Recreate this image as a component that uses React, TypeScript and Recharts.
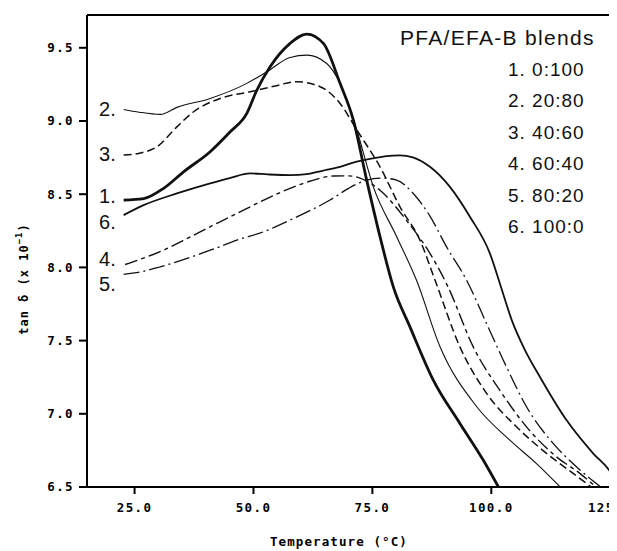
import { LineChart, Line, XAxis, YAxis, ReferenceLine, ReferenceDot, Label } from "recharts";

// tan delta (x 10^-1) vs temperature
const blend1Temp = [22.7, 26.9, 31.1, 35.3, 40.9, 45.1, 48.6, 50.7, 53.5, 57.7, 61.2, 64.7, 68.2, 71.0, 73.8, 76.6, 79.4, 82.9, 87.8, 93.4, 98.3, 101.5];
const blend1Tan = [8.46, 8.47, 8.54, 8.653, 8.79, 8.926, 9.052, 9.21, 9.37, 9.53, 9.594, 9.53, 9.257, 9.006, 8.596, 8.21, 7.867, 7.594, 7.23, 6.934, 6.684, 6.5];

const blend2Temp = [22.7, 26.0, 30.4, 33.9, 40.9, 48.6, 52.8, 57.7, 61.2, 65.4, 68.2, 71.7, 75.2, 80.1, 84.3, 89.2, 96.9, 103.9, 109.5, 114.5];
const blend2Tan = [9.079, 9.06, 9.045, 9.093, 9.154, 9.257, 9.336, 9.434, 9.45, 9.393, 9.257, 8.94, 8.55, 8.21, 7.91, 7.46, 7.05, 6.82, 6.66, 6.5];

const blend3Temp = [22.7, 26.0, 29.7, 33.9, 37.4, 43.0, 49.3, 54.0, 59.1, 64.0, 68.2, 71.7, 76.6, 80.8, 85.0, 88.2, 93.4, 99.0, 105.3, 111.6, 117.2, 121.0];
const blend3Tan = [8.767, 8.78, 8.824, 8.96, 9.063, 9.154, 9.2, 9.235, 9.268, 9.234, 9.12, 8.94, 8.687, 8.414, 8.186, 7.91, 7.457, 7.14, 6.911, 6.73, 6.593, 6.5];

const blend4Temp = [23.0, 27.0, 31.1, 35.0, 39.5, 43.5, 47.9, 52.5, 57.7, 62.0, 66.8, 70.0, 72.4, 76.6, 82.2, 87.1, 90.9, 96.2, 101.8, 107.4, 113.7, 118.6, 122.0];
const blend4Tan = [8.02, 8.065, 8.118, 8.18, 8.255, 8.32, 8.391, 8.465, 8.54, 8.59, 8.624, 8.625, 8.61, 8.527, 8.32, 8.096, 7.867, 7.457, 7.16, 6.911, 6.706, 6.593, 6.5];

const blend5Temp = [22.7, 26.5, 30.4, 34.0, 38.1, 42.0, 46.5, 52.1, 57.7, 62.0, 66.1, 70.0, 73.8, 77.0, 80.1, 83.6, 87.1, 90.6, 94.8, 99.0, 103.2, 107.4, 113.0, 117.9, 123.0];
const blend5Tan = [7.952, 7.97, 8.004, 8.04, 8.084, 8.13, 8.186, 8.243, 8.323, 8.39, 8.46, 8.54, 8.596, 8.61, 8.596, 8.505, 8.35, 8.14, 7.913, 7.617, 7.32, 7.048, 6.798, 6.638, 6.5];

const blend6Temp = [22.7, 26.9, 33.9, 40.9, 45.0, 49.3, 53.0, 57.7, 61.2, 64.5, 68.2, 71.5, 75.2, 78.0, 80.8, 83.5, 87.1, 91.3, 95.5, 99.7, 102.0, 104.3, 107.0, 110.2, 115.8, 121.4, 125.0, 126.8];
const blend6Tan = [8.357, 8.425, 8.505, 8.574, 8.61, 8.642, 8.635, 8.63, 8.637, 8.66, 8.687, 8.72, 8.745, 8.76, 8.765, 8.752, 8.687, 8.55, 8.346, 8.096, 7.87, 7.64, 7.44, 7.253, 6.957, 6.73, 6.604, 6.5];

const xTicks = [25, 50, 75, 100, 125];
const yTicks = [6.5, 7.0, 7.5, 8.0, 8.5, 9.0, 9.5];
const Y_MAX = 9.724;

const legendTitle = "PFA/EFA-B blends";
const legendItems = ["1. 0:100", "2. 20:80", "3. 40:60", "4. 60:40", "5. 80:20", "6. 100:0"];

// curve numbers written at the left end of each curve
const curveTags = ["2.", "3.", "1.", "6.", "4.", "5."];
const curveTagTemp = [19.3, 19.3, 19.3, 19.3, 19.3, 19.3];
const curveTagTan = [9.081, 8.774, 8.49, 8.309, 8.06, 7.89];

const zip = (t: number[], v: number[]) => t.map((x, i) => ({ t: x, v: v[i] }));

const series = [
  { name: "1. 0:100", data: zip(blend1Temp, blend1Tan), width: 2.8, dash: undefined },
  { name: "2. 20:80", data: zip(blend2Temp, blend2Tan), width: 1.1, dash: undefined },
  { name: "3. 40:60", data: zip(blend3Temp, blend3Tan), width: 1.5, dash: "8 4" },
  { name: "4. 60:40", data: zip(blend4Temp, blend4Tan), width: 1.4, dash: "13 4 4 4" },
  { name: "5. 80:20", data: zip(blend5Temp, blend5Tan), width: 1.3, dash: "16 4 2 4" },
  { name: "6. 100:0", data: zip(blend6Temp, blend6Tan), width: 1.8, dash: undefined },
];

const mono = "'DejaVu Sans Mono', monospace";
const sans = "'Liberation Sans', Arial, sans-serif";

const tickStyle = {
  fill: "#000",
  fontSize: 12.5,
  fontFamily: mono,
  fontWeight: "bold",
  letterSpacing: 1.4,
};

export default function App() {
  return (
    <div style={{ position: "relative", width: 609, height: 543, overflow: "hidden", background: "#fff" }}>
      <LineChart width={700} height={545} margin={{ top: 7, right: 74, bottom: 0, left: 0 }}>
        <XAxis
          type="number"
          dataKey="t"
          domain={[15, 130]}
          ticks={xTicks}
          allowDataOverflow
          tickFormatter={(v: number) => v.toFixed(1)}
          tick={tickStyle}
          tickSize={7}
          tickMargin={9}
          height={66}
          axisLine={{ stroke: "#000", strokeWidth: 2 }}
          tickLine={{ stroke: "#000", strokeWidth: 2 }}
        >
          <Label
            content={({ viewBox }: any) => (
              <text
                x={viewBox.x + 252}
                y={viewBox.y + 59}
                textAnchor="middle"
                fill="#000"
                fontSize={12.5}
                fontFamily={mono}
                fontWeight="bold"
                letterSpacing={1.1}
              >
                Temperature (°C)
              </text>
            )}
          />
        </XAxis>
        <YAxis
          type="number"
          domain={[6.5, Y_MAX]}
          ticks={yTicks}
          allowDataOverflow
          tickFormatter={(v: number) => v.toFixed(1)}
          tick={tickStyle}
          tickSize={8}
          tickMargin={5}
          width={79}
          axisLine={{ stroke: "#000", strokeWidth: 2 }}
          tickLine={{ stroke: "#000", strokeWidth: 2 }}
        >
          <Label
            content={({ viewBox }: any) => {
              const x = viewBox.x + 15.5;
              const y = viewBox.y + 264;
              return (
                <text
                  x={x}
                  y={y}
                  transform={`rotate(-90, ${x}, ${y})`}
                  textAnchor="middle"
                  dominantBaseline="central"
                  fill="#000"
                  fontSize={12}
                  fontFamily={mono}
                  fontWeight="bold"
                  letterSpacing={1}
                >
                  tan δ (x 10
                  <tspan dy={-5} fontSize={9}>−1</tspan>
                  <tspan dy={5}>)</tspan>
                </text>
              );
            }}
          />
        </YAxis>

        <ReferenceLine y={Y_MAX} stroke="#000" strokeWidth={2} ifOverflow="visible" />
        <ReferenceLine x={125} stroke="#000" strokeWidth={2} ifOverflow="visible" />

        {series.map((s) => (
          <Line
            key={s.name}
            name={s.name}
            data={s.data}
            dataKey="v"
            type="monotone"
            stroke="#111"
            strokeWidth={s.width}
            strokeDasharray={s.dash}
            dot={false}
            activeDot={false}
            isAnimationActive={false}
          />
        ))}

        {curveTags.map((tag, i) => (
          <ReferenceDot
            key={tag}
            x={curveTagTemp[i]}
            y={curveTagTan[i]}
            r={0}
            ifOverflow="visible"
            shape={(p: any) => (
              <text
                x={p.cx}
                y={p.cy}
                textAnchor="middle"
                dominantBaseline="central"
                fill="#111"
                fontSize={20}
                fontFamily={sans}
              >
                {tag}
              </text>
            )}
          />
        ))}
      </LineChart>

      <svg
        width={609}
        height={543}
        style={{ position: "absolute", left: 0, top: 0, pointerEvents: "none" }}
      >
        <text x={392} y={37} fill="#111" fontSize={21} fontFamily={sans} letterSpacing={1.3}>
          {legendTitle}
        </text>
        {legendItems.map((item, i) => (
          <text
            key={item}
            x={500}
            y={68 + i * 31.4}
            fill="#111"
            fontSize={19}
            fontFamily={sans}
            letterSpacing={1}
          >
            {item}
          </text>
        ))}
      </svg>
    </div>
  );
}
